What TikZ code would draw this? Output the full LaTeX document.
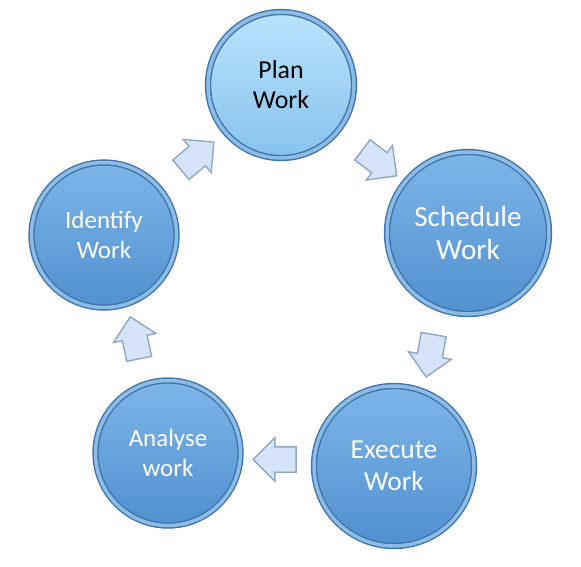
\documentclass[tikz,border=0pt]{standalone}
\usepackage{fontspec}
\setmainfont{Carlito}
\usetikzlibrary{shapes.arrows,calc}
\definecolor{rimdark}{HTML}{3E74AA}
\definecolor{rimlight}{HTML}{8DBDE6}
\definecolor{darktop}{HTML}{7DB6E8}
\definecolor{darkbot}{HTML}{5190D0}
\definecolor{lighttop}{HTML}{B9E3FB}
\definecolor{lightbot}{HTML}{86C3EE}
\definecolor{arrowfill}{HTML}{D5E4F7}
\definecolor{arrowline}{HTML}{8FA8C6}
\tikzset{
  phase/.style={circle,draw=rimdark,double=rimlight,double distance=2pt,line width=0.8pt,
                top color=darktop,bottom color=darkbot,text=white,align=center,inner sep=0pt},
  phaselight/.style={phase,top color=lighttop,bottom color=lightbot,text=black},
  flow/.style={single arrow,draw=arrowline,fill=arrowfill,line width=0.8pt,inner xsep=0pt,
               inner ysep=0.24cm,minimum height=0.86cm,minimum width=0.86cm,
               single arrow head extend=0.18cm},
}
\begin{document}
\begin{tikzpicture}[x=0.02cm,y=-0.02cm]
  \useasboundingbox (0,0) rectangle (581,566);
  \node[phaselight,minimum size=2.92cm,font=\fontsize{14.7}{17}\selectfont] (plan) at (281,85) {Plan\\Work};
  \node[phase,minimum size=3.24cm,font=\fontsize{16.6}{19}\selectfont] (sched) at (468,233) {Schedule\\Work};
  \node[phase,minimum size=3.2cm,font=\fontsize{15.6}{18.5}\selectfont] (exec) at (394,466) {Execute\\Work};
  \node[phase,minimum size=2.9cm,font=\fontsize{14.2}{17}\selectfont] (analyse) at (168,453) {Analyse\\work};
  \node[phase,minimum size=2.9cm,font=\fontsize{14.2}{17}\selectfont] (ident) at (104,235) {Identify\\Work};
  \node[flow,rotate=40] (a1) at ($(ident)!0.5!(plan)$) {};
  \node[flow,rotate=-37] (a2) at ($(plan)!0.5!(sched)$) {};
  \node[flow,rotate=-100] (a3) at ($(sched)!0.5!(exec)$) {};
  \node[flow,rotate=180] (a4) at ($(exec)!0.5!(analyse)$) {};
  \node[flow,rotate=102] (a5) at ($(analyse)!0.5!(ident)$) {};
\end{tikzpicture}
\end{document}
